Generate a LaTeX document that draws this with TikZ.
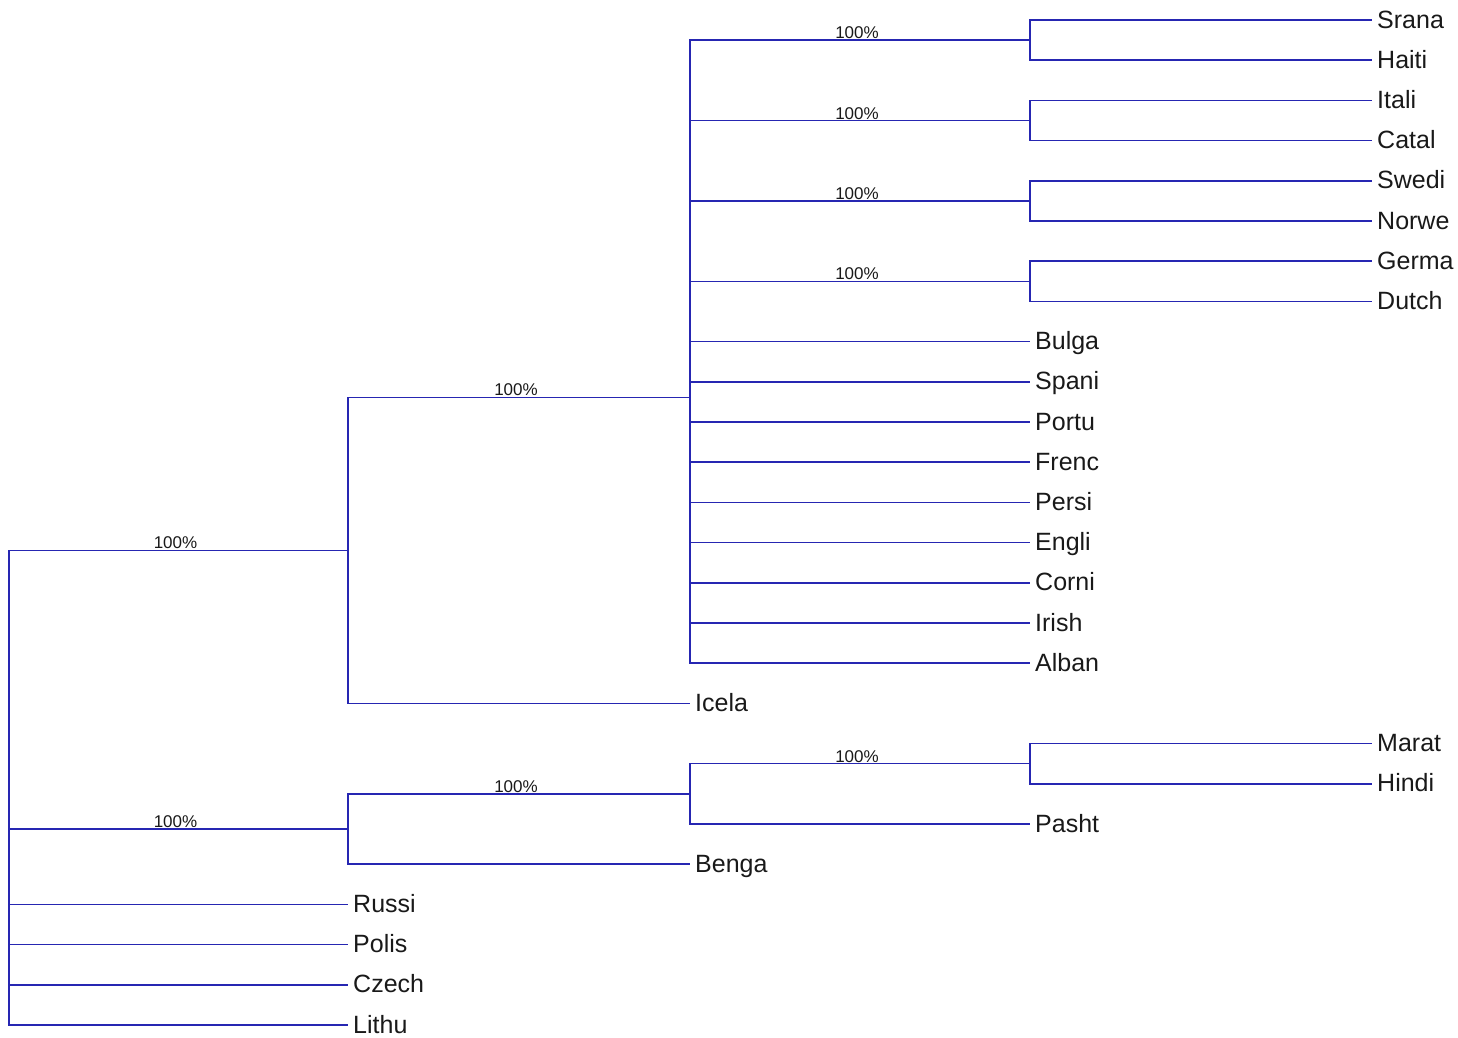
\documentclass[tikz,border=0pt]{standalone}
\usepackage{fontspec}
\setmainfont{Liberation Sans}
\definecolor{branchc}{RGB}{38,38,178}
\definecolor{ink}{RGB}{25,25,25}
\begin{document}
\begin{tikzpicture}[x=1pt,y=-1pt,
  branch/.style={draw=branchc, line width=1.5pt},
  leaf/.style={anchor=west, inner xsep=5pt, inner ysep=0pt, text height=16pt,
    text depth=0pt, font=\fontsize{25}{25}\selectfont, text=ink},
  support/.style={anchor=base, inner sep=0pt, yshift=1.5pt, xshift=-3pt,
    font=\fontsize{17}{17}\selectfont, text=ink}]
\useasboundingbox (0,0) rectangle (1458,1037);

% internal nodes (x = depth, y = mean of children)
\coordinate (root) at (9,873);
\coordinate (ie)   at (348,550.3);
\coordinate (core) at (690,397.3);
\coordinate (sh)   at (1030,40.1);
\coordinate (ic)   at (1030,120.5);
\coordinate (sn)   at (1030,200.9);
\coordinate (gd)   at (1030,281.3);
\coordinate (ii)   at (348,829);
\coordinate (mhp)  at (690,793.9);
\coordinate (mh)   at (1030,763.7);

% leaves
\node[leaf] (srana) at (1372,20)    {Srana};
\node[leaf] (haiti) at (1372,60.2)  {Haiti};
\node[leaf] (itali) at (1372,100.4) {Itali};
\node[leaf] (catal) at (1372,140.6) {Catal};
\node[leaf] (swedi) at (1372,180.8) {Swedi};
\node[leaf] (norwe) at (1372,221)   {Norwe};
\node[leaf] (germa) at (1372,261.2) {Germa};
\node[leaf] (dutch) at (1372,301.4) {Dutch};
\node[leaf] (bulga) at (1030,341.6) {Bulga};
\node[leaf] (spani) at (1030,381.8) {Spani};
\node[leaf] (portu) at (1030,422)   {Portu};
\node[leaf] (frenc) at (1030,462.2) {Frenc};
\node[leaf] (persi) at (1030,502.4) {Persi};
\node[leaf] (engli) at (1030,542.6) {Engli};
\node[leaf] (corni) at (1030,582.8) {Corni};
\node[leaf] (irish) at (1030,623)   {Irish};
\node[leaf] (alban) at (1030,663.2) {Alban};
\node[leaf] (icela) at (690,703.4)  {Icela};
\node[leaf] (marat) at (1372,743.6) {Marat};
\node[leaf] (hindi) at (1372,783.8) {Hindi};
\node[leaf] (pasht) at (1030,824)   {Pasht};
\node[leaf] (benga) at (690,864.2)  {Benga};
\node[leaf] (russi) at (348,904.4)  {Russi};
\node[leaf] (polis) at (348,944.6)  {Polis};
\node[leaf] (czech) at (348,984.8)  {Czech};
\node[leaf] (lithu) at (348,1025)   {Lithu};

% root
\draw[branch] (root) |- node[support,pos=0.75] {100\%} (ie);
\draw[branch] (root) |- node[support,pos=0.75] {100\%} (ii);
\foreach \c in {russi,polis,czech,lithu}
  \draw[branch] (root) |- (\c.west);

% first clade
\draw[branch] (ie) |- node[support,pos=0.75] {100\%} (core);
\draw[branch] (ie) |- (icela.west);
\foreach \c in {sh,ic,sn,gd}
  \draw[branch] (core) |- node[support,pos=0.75] {100\%} (\c);
\foreach \c in {bulga,spani,portu,frenc,persi,engli,corni,irish,alban}
  \draw[branch] (core) |- (\c.west);
\draw[branch] (sh) |- (srana.west);
\draw[branch] (sh) |- (haiti.west);
\draw[branch] (ic) |- (itali.west);
\draw[branch] (ic) |- (catal.west);
\draw[branch] (sn) |- (swedi.west);
\draw[branch] (sn) |- (norwe.west);
\draw[branch] (gd) |- (germa.west);
\draw[branch] (gd) |- (dutch.west);

% second clade
\draw[branch] (ii) |- node[support,pos=0.75] {100\%} (mhp);
\draw[branch] (ii) |- (benga.west);
\draw[branch] (mhp) |- node[support,pos=0.75] {100\%} (mh);
\draw[branch] (mhp) |- (pasht.west);
\draw[branch] (mh) |- (marat.west);
\draw[branch] (mh) |- (hindi.west);
\end{tikzpicture}
\end{document}
